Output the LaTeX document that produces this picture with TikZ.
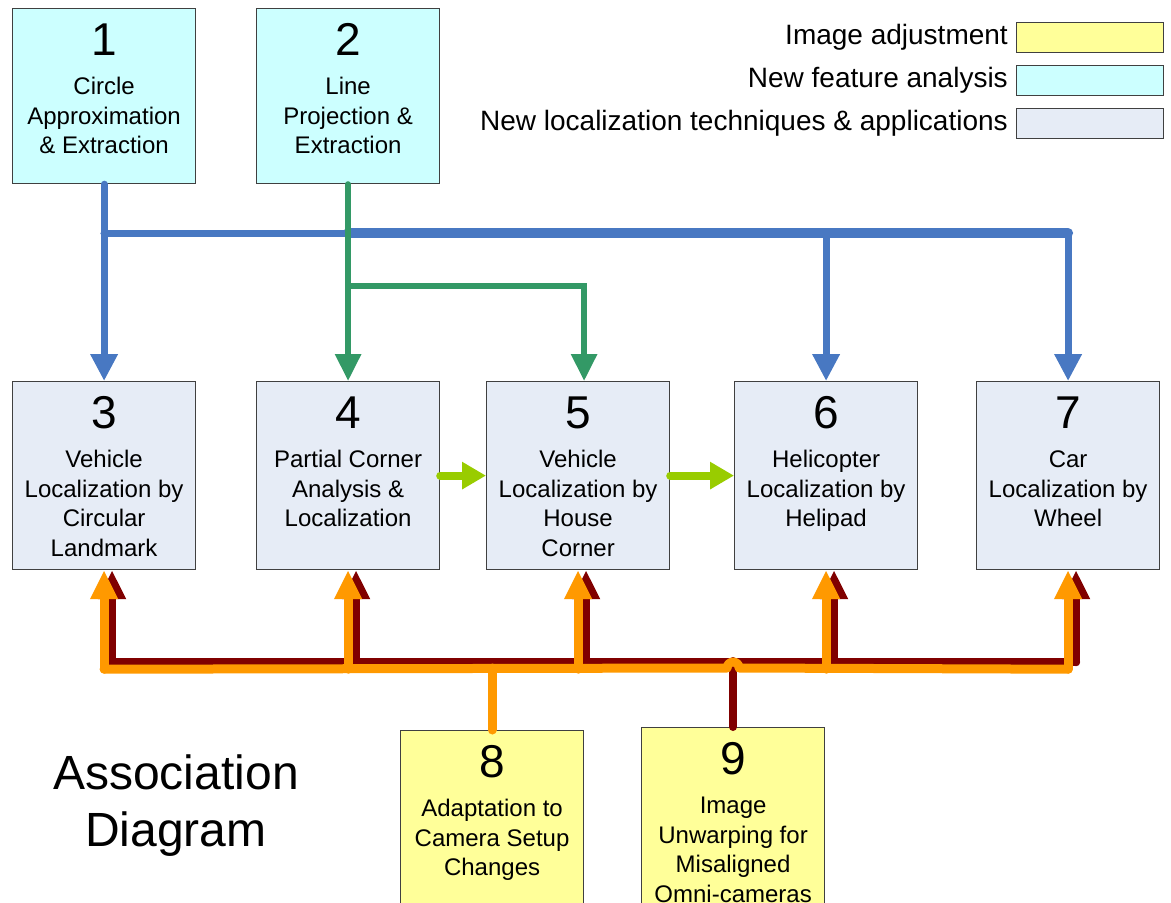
\documentclass[tikz,border=0pt]{standalone}
\usepackage{fontspec}
\setmainfont{Liberation Sans}
\usepackage{tikz}
\usetikzlibrary{arrows.meta,positioning,calc}

\definecolor{featcyan}{HTML}{CCFFFF}
\definecolor{techlav}{HTML}{E6ECF6}
\definecolor{adjyellow}{HTML}{FFFF99}
\definecolor{boxgray}{HTML}{404040}
\definecolor{lineblue}{HTML}{4878C2}
\definecolor{linegreen}{HTML}{339966}
\definecolor{linelime}{HTML}{99CC00}
\definecolor{lineorange}{HTML}{FF9900}
\definecolor{linered}{HTML}{800000}

\newcommand{\boxtxt}[3][188pt]{\parbox[t][#1][t]{183pt}{\centering\rule{0pt}{47pt}{\fontsize{46}{46}\selectfont #2}\par\vspace{9.5pt}\fontsize{24}{29.5}\selectfont #3\par}}

\begin{document}
\begin{tikzpicture}[x=1pt, y=-1pt,
			fbox/.style = {draw=boxgray, line width=1.2pt, inner sep=0pt, anchor=north west},
			feat/.style = {fbox, fill=featcyan},
			tech/.style = {fbox, fill=techlav},
			adj/.style = {fbox, fill=adjyellow},
			keybox/.style = {minimum width=147pt, minimum height=30pt},
			keytext/.style = {font=\fontsize{28}{28}\selectfont, inner sep=0pt},
			blueln/.style = {draw=lineblue, line width=7pt, line cap=round},
			bluearr/.style = {blueln, -{Triangle[length=27pt,width=26pt]}},
			greenarr/.style = {draw=linegreen, line width=6pt, line cap=round, -{Triangle[length=27pt,width=25pt]}},
			limearr/.style = {draw=linelime, line width=8pt, line cap=round, -{Triangle[length=24pt,width=26pt]}},
			orgln/.style = {draw=lineorange, line width=9pt, line cap=round, line join=round},
			orgarr/.style = {orgln, -{Triangle[length=29pt,width=26pt]}},
			redln/.style = {draw=linered, line width=8pt, line cap=round, line join=round},
			redarr/.style = {redln, -{Triangle[length=29pt,width=26pt]}}]

			\useasboundingbox (0,0) rectangle (1171,903);
			\clip (0,0) rectangle (1171,903);

			\node[feat] (b1) at (12,8) {\boxtxt[175pt]{1}{Circle\\Approximation\\\& Extraction}};
			\node[feat] (b2) at (256,8) {\boxtxt[175pt]{2}{Line\\Projection \&\\Extraction}};
			\node[tech] (b3) at (12,381) {\boxtxt{3}{Vehicle\\Localization by\\Circular\\Landmark}};
			\node[tech] (b4) at (256,381) {\boxtxt{4}{Partial Corner\\Analysis \&\\Localization}};
			\node[tech] (b5) at (486,381) {\boxtxt{5}{Vehicle\\Localization by\\House\\Corner}};
			\node[tech] (b6) at (734,381) {\boxtxt{6}{Helicopter\\Localization by\\Helipad}};
			\node[tech] (b7) at (976,381) {\boxtxt{7}{Car\\Localization by\\Wheel}};
			\node[adj] (b8) at (400,730) {\boxtxt{8}{Adaptation to\\Camera Setup\\Changes}};
			\node[adj] (b9) at (641,727) {\boxtxt{9}{Image\\Unwarping for\\Misaligned\\Omni-cameras}};

			\node[adj,keybox] (keyA) at (1016,22) {};
			\node[feat,keybox] (keyB) at (1016,65) {};
			\node[tech,keybox] (keyC) at (1016,108) {};
			\node[keytext, left=8pt of keyA] (keyAt) {Image adjustment};
			\node[keytext, left=8pt of keyB] (keyBt) {New feature analysis};
			\node[keytext, left=8pt of keyC] (keyCt) {New localization techniques \& applications};

			\node[font=\fontsize{48}{57}\selectfont, align=center, inner sep=0pt] (title) at (176,806) {Association\\Diagram};

			\coordinate (bluebar) at ($(b1.south)+(0,49)$);
			\draw[bluearr] (b1.south) -- (b3.north);
			\draw[bluearr] (bluebar) -| (b6.north);
			\draw[bluearr] (bluebar) -| (b7.north);
			\draw[blueln, line width=10pt] (b2.south |- bluebar) -- (b7.north |- bluebar);

			\draw[greenarr] (b2.south) -- (b4.north);
			\draw[greenarr] ($(b2.south)+(0,102)$) -| ([xshift=6pt]b5.north);

			\draw[limearr] (b4.east) -- (b5.west);
			\draw[limearr] (b5.east) -- (b6.west);

			\foreach \i in {3,...,7}
				\draw[redarr] ($(b\i.south)+(8,92)$) -- ($(b\i.south)+(8,0)$);
			\draw[redln] ($(b3.south)+(8,92)$) -- ($(b7.south)+(8,92)$);
			\draw[redln] (b9.north) -- ($(b9.north)+(0,-66)$);

			\foreach \i in {3,...,7}
				\draw[orgarr] ($(b\i.south)+(0,99)$) -- (b\i.south);
			\draw[orgln] ($(b3.south)+(0,99)$) -- ($(b9.north)+(-6,-59)$) arc[start angle=180, end angle=360, radius=6] -- ($(b7.south)+(0,99)$);
			\draw[orgln] (b8.north) -- ($(b8.north)+(0,-62)$);

		\end{tikzpicture}
\end{document}
